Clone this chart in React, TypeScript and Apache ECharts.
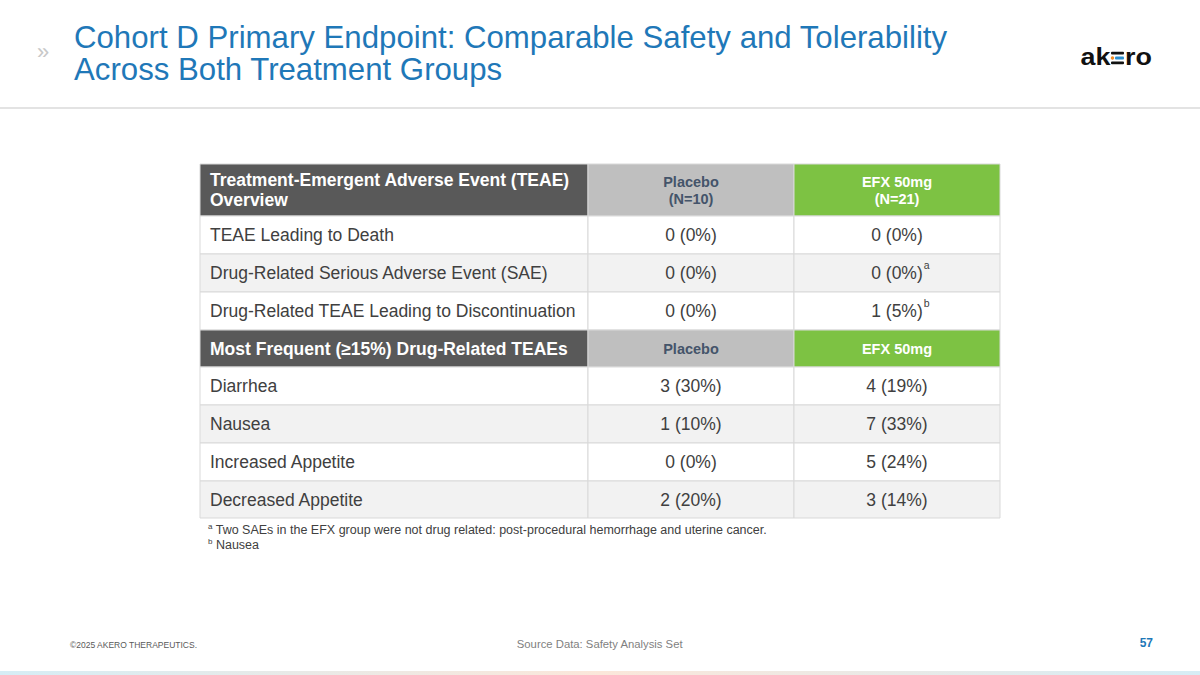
import React, { useEffect, useRef } from "react";
import * as echarts from "echarts";

// ---- Data ----
const overviewTitle = "Treatment-Emergent Adverse Event (TEAE)\nOverview";
const groupHeaders = ["Placebo\n(N=10)", "EFX 50mg\n(N=21)"];
const overviewLabels = [
  "TEAE Leading to Death",
  "Drug-Related Serious Adverse Event (SAE)",
  "Drug-Related TEAE Leading to Discontinuation",
];
const overviewPlaceboN = [0, 0, 0];
const overviewPlaceboPct = [0, 0, 0];
const overviewEfxN = [0, 0, 1];
const overviewEfxPct = [0, 0, 5];
const overviewEfxNote = ["", "a", "b"];

const frequentTitle = "Most Frequent (\u226515%) Drug-Related TEAEs";
const frequentHeaders = ["Placebo", "EFX 50mg"];
const frequentLabels = ["Diarrhea", "Nausea", "Increased Appetite", "Decreased Appetite"];
const frequentPlaceboN = [3, 1, 0, 2];
const frequentPlaceboPct = [30, 10, 0, 20];
const frequentEfxN = [4, 7, 5, 3];
const frequentEfxPct = [19, 33, 24, 14];

const footnotes = [
  ["a", "Two SAEs in the EFX group were not drug related: post-procedural hemorrhage and uterine cancer."],
  ["b", "Nausea"],
];

// ---- Layout / style constants ----
const FONT = "'Liberation Sans', Arial, Helvetica, sans-serif";
const COL_EDGES = [0, 388, 594, 800];
const ROW_HEIGHTS = [52, 38, 38, 38, 37, 38, 38, 38, 37];
const TABLE_W = 800;
const TABLE_H = ROW_HEIGHTS.reduce((a, b) => a + b, 0);
const ROW_TOPS: number[] = [];
ROW_HEIGHTS.reduce((acc, h) => {
  ROW_TOPS.push(acc);
  return acc + h;
}, 0);

type Cell = {
  kind: "hdrLabel" | "hdrPlacebo" | "hdrEfx" | "body";
  text: string;
  note?: string;
  shade?: boolean;
};

const fmt = (n: number, p: number) => `${n} (${p}%)`;

let measureCtx: CanvasRenderingContext2D | null = null;
function textWidth(text: string, font: string): number {
  if (!measureCtx) measureCtx = document.createElement("canvas").getContext("2d");
  if (!measureCtx) return text.length * 8;
  measureCtx.font = font;
  return measureCtx.measureText(text).width;
}

function buildRows(): Cell[][] {
  const rows: Cell[][] = [];
  rows.push([
    { kind: "hdrLabel", text: overviewTitle },
    { kind: "hdrPlacebo", text: groupHeaders[0] },
    { kind: "hdrEfx", text: groupHeaders[1] },
  ]);
  overviewLabels.forEach((l, i) => {
    const shade = i % 2 === 1;
    rows.push([
      { kind: "body", text: l, shade },
      { kind: "body", text: fmt(overviewPlaceboN[i], overviewPlaceboPct[i]), shade },
      { kind: "body", text: fmt(overviewEfxN[i], overviewEfxPct[i]), note: overviewEfxNote[i], shade },
    ]);
  });
  rows.push([
    { kind: "hdrLabel", text: frequentTitle },
    { kind: "hdrPlacebo", text: frequentHeaders[0] },
    { kind: "hdrEfx", text: frequentHeaders[1] },
  ]);
  frequentLabels.forEach((l, i) => {
    const shade = i % 2 === 1;
    rows.push([
      { kind: "body", text: l, shade },
      { kind: "body", text: fmt(frequentPlaceboN[i], frequentPlaceboPct[i]), shade },
      { kind: "body", text: fmt(frequentEfxN[i], frequentEfxPct[i]), shade },
    ]);
  });
  return rows;
}

export default function App() {
  const ref = useRef<HTMLDivElement>(null);

  useEffect(() => {
    document.body.style.margin = "0";
    if (!ref.current) return;
    const chart = echarts.init(ref.current, null, { renderer: "svg" });

    const rows = buildRows();
    const cells: { r: number; c: number; cell: Cell }[] = [];
    rows.forEach((row, r) => row.forEach((cell, c) => cells.push({ r, c, cell })));

    const renderItem = (params: any, api: any) => {
      const col = api.value(0);
      const row = api.value(1);
      const cell = cells[params.dataIndex].cell;
      const p0 = api.coord([COL_EDGES[col], ROW_TOPS[row]]);
      const p1 = api.coord([COL_EDGES[col + 1], ROW_TOPS[row] + ROW_HEIGHTS[row]]);
      const x0 = p0[0], y0 = p0[1], x1 = p1[0], y1 = p1[1];
      const w = x1 - x0, h = y1 - y0;
      let fill = cell.shade ? "#f2f2f2" : "#ffffff";
      let color = "#404040";
      let fontWeight: any = "normal";
      let fontSize = 17.5;
      if (cell.kind === "hdrLabel") { fill = "#595959"; color = "#ffffff"; fontWeight = "bold"; }
      if (cell.kind === "hdrPlacebo") { fill = "#bfbfbf"; color = "#44546a"; fontWeight = "bold"; fontSize = 14.5; }
      if (cell.kind === "hdrEfx") { fill = "#7dc243"; color = "#ffffff"; fontWeight = "bold"; fontSize = 14.5; }
      const leftAligned = col === 0;
      const lh = fontSize < 16 ? 17 : 20;
      const cx = leftAligned ? x0 + 10 : x0 + w / 2;
      const cy = y0 + h / 2;
      const children: any[] = [
        {
          type: "rect",
          shape: { x: x0, y: y0, width: w, height: h },
          style: { fill, stroke: "#d9d9d9", lineWidth: 1 },
        },
        {
          type: "text",
          style: {
            x: cx,
            y: cy,
            text: cell.text,
            align: leftAligned ? "left" : "center",
            verticalAlign: "middle",
            fill: color,
            fontFamily: FONT,
            fontSize,
            fontWeight,
            lineHeight: lh,
          },
        },
      ];
      if (cell.note) {
        const tw = textWidth(cell.text, `${fontSize}px ${FONT}`);
        children.push({
          type: "text",
          style: {
            x: cx + tw / 2 + 1,
            y: cy - 8,
            text: cell.note,
            align: "left",
            verticalAlign: "middle",
            fill: color,
            fontFamily: FONT,
            fontSize: 10.5,
          },
        });
      }
      return { type: "group", children };
    };

    const footnoteGraphics = footnotes.map((f, i) => ({
      type: "text",
      left: 208,
      top: 522 + i * 15,
      style: {
        text: `{s|${f[0]}}{t| ${f[1]}}`,
        rich: {
          s: { fontFamily: FONT, fontSize: 8, fill: "#404040", verticalAlign: "top", lineHeight: 15 },
          t: { fontFamily: FONT, fontSize: 12.5, fill: "#404040", lineHeight: 15 },
        },
      },
    }));

    const logoFs = 24;
    const logoBase = 64.5;
    const logoMidY = logoBase - 0.3465 * logoFs;

    chart.setOption({
      animation: false,
      backgroundColor: "#ffffff",
      grid: { left: 200, top: 164, width: TABLE_W, height: TABLE_H },
      xAxis: { type: "value", min: 0, max: TABLE_W, show: false },
      yAxis: { type: "value", min: 0, max: TABLE_H, inverse: true, show: false },
      series: [
        {
          type: "custom",
          renderItem,
          silent: true,
          clip: false,
          data: cells.map((c) => [c.c, c.r]),
        },
      ],
      graphic: [
        {
          type: "text",
          left: 37,
          top: 40,
          style: { text: "\u00bb", fontFamily: FONT, fontSize: 22, fill: "#c8c8c8" },
        },
        {
          type: "text",
          left: 74,
          top: 21,
          style: {
            text: "Cohort D Primary Endpoint: Comparable Safety and Tolerability\nAcross Both Treatment Groups",
            fontFamily: FONT,
            fontSize: 31.2,
            lineHeight: 32.5,
            fill: "#1f78b8",
          },
        },
        {
          type: "rect",
          shape: { x: 0, y: 107, width: 1200, height: 2 },
          style: { fill: "#e3e3e3" },
        },
        // logo
        {
          type: "text",
          x: 1080.5,
          y: logoMidY,
          scaleX: 1.12,
          style: { x: 0, y: 0, text: "ak", verticalAlign: "middle", fontFamily: FONT, fontSize: logoFs, fontWeight: "bold", fill: "#111111" },
        },
        { type: "rect", shape: { x: 1111, y: 51.8, width: 13, height: 2.8, r: 1 }, style: { fill: "#111111" } },
        { type: "circle", shape: { cx: 1112.5, cy: 58, r: 1.7 }, style: { fill: "#f08a24" } },
        { type: "rect", shape: { x: 1115, y: 56.6, width: 9, height: 2.8, r: 1 }, style: { fill: "#2a8fd0" } },
        { type: "rect", shape: { x: 1111, y: 61.5, width: 13, height: 2.8, r: 1 }, style: { fill: "#111111" } },
        {
          type: "text",
          x: 1125,
          y: logoMidY,
          scaleX: 1.12,
          style: { x: 0, y: 0, text: "ro", verticalAlign: "middle", fontFamily: FONT, fontSize: logoFs, fontWeight: "bold", fill: "#111111" },
        },
        ...footnoteGraphics,
        {
          type: "text",
          left: 70,
          top: 640,
          style: { text: "\u00a92025 AKERO THERAPEUTICS.", fontFamily: FONT, fontSize: 8.5, fill: "#595959" },
        },
        {
          type: "text",
          left: "center",
          top: 638,
          style: { text: "Source Data: Safety Analysis Set", fontFamily: FONT, fontSize: 11.3, fill: "#7f7f7f" },
        },
        {
          type: "text",
          right: 47,
          top: 637,
          style: { text: "57", fontFamily: FONT, fontSize: 12, fontWeight: "bold", fill: "#1f78b8" },
        },
        {
          type: "rect",
          shape: { x: 0, y: 671, width: 1200, height: 4 },
          style: {
            fill: new echarts.graphic.LinearGradient(0, 0, 1, 0, [
              { offset: 0, color: "#d6edf5" },
              { offset: 0.5, color: "#fbe7da" },
              { offset: 1, color: "#d6edf5" },
            ]),
          },
        },
      ],
    });
    return () => chart.dispose();
  }, []);

  return (
    <div
      ref={ref}
      style={{ position: "absolute", left: 0, top: 0, width: 1200, height: 675 }}
    />
  );
}
